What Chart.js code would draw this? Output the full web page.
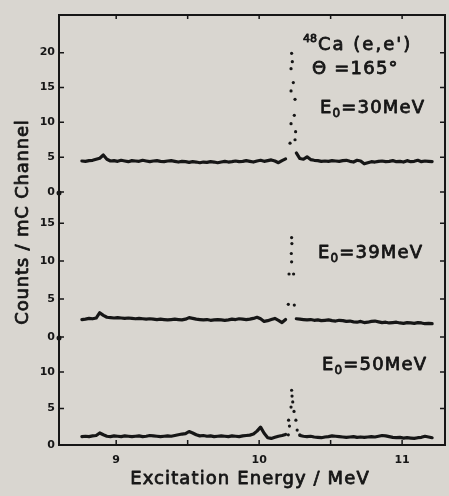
<!DOCTYPE html>
<html><head><meta charset="utf-8">
<script src="https://cdn.jsdelivr.net/npm/chart.js@4/dist/chart.umd.min.js"></script>
<style>html,body{margin:0;padding:0;background:#d9d6d0;}canvas{display:block;}</style>
</head><body>
<canvas id="c" width="449" height="496"></canvas>
<script>
// ---- data ----
const energy = [
  8.760, 8.785, 8.810, 8.835, 8.860, 8.885, 8.910, 8.935, 8.960, 8.985,
  9.010, 9.035, 9.060, 9.085, 9.110, 9.135, 9.160, 9.185, 9.210, 9.235,
  9.260, 9.285, 9.310, 9.335, 9.360, 9.385, 9.410, 9.435, 9.460, 9.485,
  9.510, 9.535, 9.560, 9.585, 9.610, 9.635, 9.660, 9.685, 9.710, 9.735,
  9.760, 9.785, 9.810, 9.835, 9.860, 9.885, 9.910, 9.935, 9.960, 9.985,
  10.010, 10.035, 10.060, 10.085, 10.110, 10.135, 10.160, 10.185, 10.210, 10.235,
  10.260, 10.285, 10.310, 10.335, 10.360, 10.385, 10.410, 10.435, 10.460, 10.485,
  10.510, 10.535, 10.560, 10.585, 10.610, 10.635, 10.660, 10.685, 10.710, 10.735,
  10.760, 10.785, 10.810, 10.835, 10.860, 10.885, 10.910, 10.935, 10.960, 10.985,
  11.010, 11.035, 11.060, 11.085, 11.110, 11.135, 11.160, 11.185, 11.210
];
const counts30 = [
  4.45, 4.40, 4.50, 4.55, 4.70, 4.85, 5.30, 4.70, 4.45, 4.50,
  4.40, 4.55, 4.45, 4.35, 4.50, 4.45, 4.40, 4.55, 4.45, 4.35,
  4.45, 4.50, 4.40, 4.35, 4.45, 4.50, 4.40, 4.30, 4.40, 4.35,
  4.25, 4.35, 4.30, 4.20, 4.30, 4.25, 4.35, 4.30, 4.20, 4.30,
  4.40, 4.30, 4.35, 4.45, 4.35, 4.40, 4.50, 4.40, 4.30, 4.45,
  4.55, 4.40, 4.50, 4.60, 4.45, 4.20, 4.50, 4.75, null, null,
  5.60, 4.80, 4.70, 5.05, 4.65, 4.55, 4.50, 4.40, 4.45, 4.40,
  4.50, 4.45, 4.40, 4.50, 4.55, 4.40, 4.30, 4.55, 4.45, 4.05,
  4.20, 4.35, 4.30, 4.40, 4.45, 4.35, 4.40, 4.50, 4.35, 4.40,
  4.30, 4.50, 4.35, 4.40, 4.55, 4.35, 4.45, 4.40, 4.35
];
const counts39 = [
  2.30, 2.35, 2.45, 2.40, 2.50, 3.20, 2.85, 2.60, 2.55, 2.50,
  2.55, 2.50, 2.45, 2.50, 2.45, 2.40, 2.45, 2.40, 2.35, 2.40,
  2.35, 2.30, 2.35, 2.30, 2.25, 2.30, 2.35, 2.30, 2.25, 2.35,
  2.55, 2.45, 2.35, 2.30, 2.25, 2.30, 2.20, 2.25, 2.30, 2.25,
  2.20, 2.25, 2.35, 2.30, 2.40, 2.35, 2.30, 2.35, 2.45, 2.60,
  2.40, 2.05, 2.15, 2.30, 2.45, 2.20, 1.90, 2.30, null, null,
  2.40, 2.35, 2.30, 2.25, 2.30, 2.20, 2.25, 2.15, 2.20, 2.25,
  2.15, 2.10, 2.20, 2.15, 2.05, 2.10, 2.00, 1.95, 2.05, 1.90,
  1.95, 2.05, 2.10, 2.00, 1.90, 1.95, 1.85, 1.90, 1.95, 1.85,
  1.80, 1.90, 1.85, 1.80, 1.90, 1.85, 1.75, 1.80, 1.75
];
const counts50 = [
  1.15, 1.20, 1.15, 1.25, 1.30, 1.65, 1.40, 1.20, 1.15, 1.25,
  1.20, 1.15, 1.25, 1.20, 1.15, 1.20, 1.25, 1.15, 1.20, 1.30,
  1.25, 1.20, 1.15, 1.20, 1.25, 1.20, 1.30, 1.40, 1.50, 1.55,
  1.85, 1.65, 1.40, 1.25, 1.30, 1.20, 1.25, 1.15, 1.20, 1.25,
  1.20, 1.15, 1.25, 1.20, 1.15, 1.25, 1.30, 1.35, 1.50, 1.90,
  2.45, 1.60, 1.00, 0.90, 1.05, 1.20, 1.30, 1.45, null, null,
  null, 1.30, 1.20, 1.15, 1.20, 1.10, 1.05, 1.00, 1.10, 1.15,
  1.25, 1.20, 1.15, 1.10, 1.05, 1.10, 1.15, 1.05, 1.10, 1.05,
  1.10, 1.15, 1.10, 1.20, 1.30, 1.25, 1.15, 1.05, 1.00, 1.05,
  0.95, 1.00, 0.95, 0.90, 1.00, 1.05, 1.20, 1.10, 1.00
];
// sparse points on the 10.23 MeV peak
const peakE30 = [10.216, 10.223, 10.223, 10.223, 10.227, 10.232, 10.239, 10.246, 10.251, 10.255, 10.251];
const peak30  = [7.0, 9.8, 14.5, 17.7, 19.9, 18.7, 15.7, 11.0, 13.3, 8.65, 7.5];
const peakE39 = [10.204, 10.209, 10.225, 10.227, 10.227, 10.229, 10.241, 10.246];
const peak39  = [4.3, 8.3, 11.0, 13.1, 9.9, 12.3, 8.3, 4.2];
const peakE50 = [10.204, 10.206, 10.212, 10.223, 10.227, 10.230, 10.235, 10.244, 10.257, 10.266, 10.285];
const peak50  = [1.4, 3.4, 2.6, 5.2, 7.5, 6.7, 5.9, 4.6, 3.4, 2.05, 1.4];

const xTickLabels = [9, 10, 11];
const xMinorTicks = [9, 9.5, 10, 10.5, 11];
const yTicksTop = [0, 5, 10, 15, 20];
const yTicksMid = [0, 5, 10, 15];
const yTicksBot = [0, 5, 10];
const panelLabels = ['E0=30MeV', 'E0=39MeV', 'E0=50MeV'];

// ---- chart ----
const INK = '#161616';
const pts = (xs, ys) => xs.map((x, i) => ({x: x, y: ys[i]}));
const lineDs = (ys, axis) => ({
  data: pts(energy, ys), yAxisID: axis, borderColor: INK, borderWidth: 3.2,
  pointRadius: 0, spanGaps: false, tension: 0, borderJoinStyle: 'round', borderCapStyle: 'round'
});
const dotDs = (xs, ys, axis) => ({
  data: pts(xs, ys), yAxisID: axis, showLine: false, pointRadius: 1.6,
  pointBackgroundColor: INK, pointBorderWidth: 0, borderColor: INK
});
const yAxis = (max, weight, ticks) => ({
  type: 'linear', position: 'left', stack: 'panels', stackWeight: weight,
  min: 0, max: max,
  grid: {display: false, drawTicks: false}, border: {display: false},
  afterBuildTicks: s => { s.ticks = ticks.map(v => ({value: v})); },
  afterFit: s => { s.width = 59; },
  ticks: {padding: 4, color: INK, font: {family: 'DejaVu Sans', size: 11, weight: 'bold'}}
});

const decor = {
  id: 'decor',
  afterDraw(chart) {
    const ctx = chart.ctx, a = chart.chartArea;
    ctx.save();
    ctx.strokeStyle = INK; ctx.fillStyle = INK;
    ctx.lineWidth = 2;
    ctx.strokeRect(a.left, a.top, a.right - a.left, a.bottom - a.top);
    ctx.lineWidth = 1.5;
    ['yTop', 'yMid', 'yBot'].forEach(id => {
      const s = chart.scales[id];
      s.ticks.forEach(t => {
        const p = s.getPixelForValue(t.value);
        ctx.beginPath(); ctx.moveTo(a.left, p); ctx.lineTo(a.left + 5, p);
        ctx.moveTo(a.right, p); ctx.lineTo(a.right - 5, p); ctx.stroke();
      });
    });
    const sx = chart.scales.x;
    xMinorTicks.forEach(v => {
      const p = sx.getPixelForValue(v);
      ctx.beginPath(); ctx.moveTo(p, a.bottom); ctx.lineTo(p, a.bottom - 5);
      ctx.moveTo(p, a.top); ctx.lineTo(p, a.top + 4); ctx.stroke();
    });
    // small blobs at panel joins on the left axis
    ['yTop', 'yMid'].forEach(id => {
      const p = chart.scales[id].getPixelForValue(0);
      ctx.beginPath(); ctx.arc(a.left, p + 1, 2.5, 0, Math.PI * 2); ctx.fill();
    });
    // texts (regular face thickened slightly with a thin outline)
    const F = (sz) => sz + 'px "DejaVu Sans"';
    ctx.textBaseline = 'middle'; ctx.textAlign = 'left';
    ctx.lineWidth = 0.8; ctx.lineJoin = 'round';
    const sp = (v) => { try { ctx.letterSpacing = v + 'px'; } catch (e) {} };
    const T = (s, x, y) => { ctx.fillText(s, x, y); ctx.strokeText(s, x, y); };
    ctx.font = F(11); sp(0);
    T('48', 303, 39);
    ctx.font = F(18); sp(2);
    T("Ca (e,e')", 318, 45);
    sp(1.2);
    T('Θ =165°', 312, 69);
    const drawE = (txt, x, y) => {
      ctx.font = F(18); sp(1.2);
      T('E', x, y);
      let w = ctx.measureText('E').width;
      ctx.font = F(12); sp(0);
      T(txt.charAt(1), x + w, y + 6);
      w += ctx.measureText('0').width + 1;
      ctx.font = F(18); sp(1.2);
      T(txt.slice(2), x + w, y);
    };
    drawE(panelLabels[0], 320, 108);
    drawE(panelLabels[1], 318, 253);
    drawE(panelLabels[2], 322, 365);
    // axis titles
    ctx.font = F(18); sp(1.1);
    ctx.textAlign = 'center';
    T('Excitation Energy / MeV', (a.left + a.right) / 2 - 2, 479);
    ctx.translate(23, 222); ctx.rotate(-Math.PI / 2);
    sp(0.8);
    T('Counts / mC Channel', 0, 0);
    ctx.restore();
  }
};

new Chart(document.getElementById('c'), {
  type: 'line',
  data: {
    datasets: [
      lineDs(counts30, 'yTop'), dotDs(peakE30, peak30, 'yTop'),
      lineDs(counts39, 'yMid'), dotDs(peakE39, peak39, 'yMid'),
      lineDs(counts50, 'yBot'), dotDs(peakE50, peak50, 'yBot')
    ]
  },
  options: {
    responsive: false, animation: false, devicePixelRatio: 1,
    layout: {padding: {top: 15, right: 2, left: 0, bottom: 0}},
    plugins: {legend: {display: false}, tooltip: {enabled: false}},
    scales: {
      x: {
        type: 'linear', min: 8.6, max: 11.3,
        grid: {display: false, drawTicks: false}, border: {display: false},
        afterBuildTicks: s => { s.ticks = xTickLabels.map(v => ({value: v})); },
        afterFit: s => { s.height = 51; },
        ticks: {padding: 9, color: INK, font: {family: 'DejaVu Sans', size: 11, weight: 'bold'}}
      },
      yBot: yAxis(14.8, 108, yTicksBot),
      yMid: yAxis(19.1, 145, yTicksMid),
      yTop: yAxis(25.4, 177, yTicksTop)
    }
  },
  plugins: [decor]
});
</script>
</body></html>
